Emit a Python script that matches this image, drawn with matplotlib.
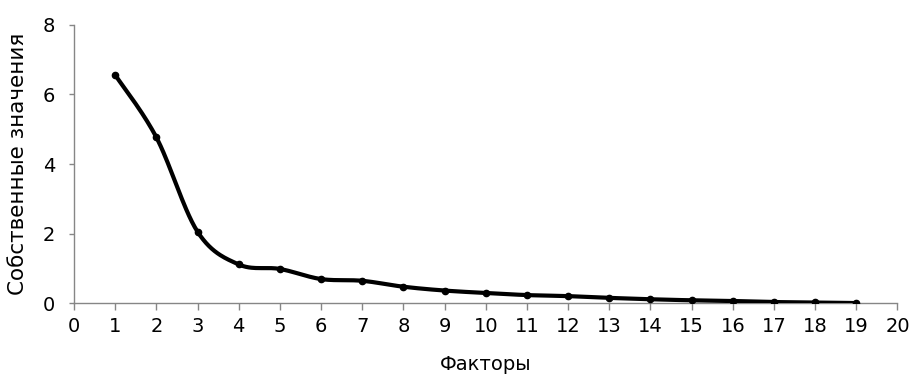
import numpy as np
import matplotlib
matplotlib.use("Agg")
import matplotlib.pyplot as plt

plt.rcParams['font.family'] = ['DejaVu Sans']

factors = list(range(1, 20))
eigenvalues = [6.56, 4.77, 2.06, 1.12, 0.99, 0.70, 0.65, 0.48, 0.37, 0.30,
               0.24, 0.21, 0.16, 0.12, 0.09, 0.07, 0.04, 0.03, 0.01]
x_ticks = list(range(0, 21))
y_ticks = [0, 2, 4, 6, 8]


def smooth(xs, ys, n=30):
    # Excel-style smoothed line: cubic bezier with catmull-rom control points
    xs = np.asarray(xs, float)
    ys = np.asarray(ys, float)
    px, py = [], []
    for i in range(len(xs) - 1):
        i0 = max(i - 1, 0)
        i3 = min(i + 2, len(xs) - 1)
        c1x = xs[i] + (xs[i + 1] - xs[i0]) / 6
        c1y = ys[i] + (ys[i + 1] - ys[i0]) / 6
        c2x = xs[i + 1] - (xs[i3] - xs[i]) / 6
        c2y = ys[i + 1] - (ys[i3] - ys[i]) / 6
        t = np.linspace(0, 1, n)
        b0 = (1 - t) ** 3
        b1 = 3 * (1 - t) ** 2 * t
        b2 = 3 * (1 - t) * t ** 2
        b3 = t ** 3
        px.extend(b0 * xs[i] + b1 * c1x + b2 * c2x + b3 * xs[i + 1])
        py.extend(b0 * ys[i] + b1 * c1y + b2 * c2y + b3 * ys[i + 1])
    return px, py


fig = plt.figure(figsize=(9.17, 3.76), dpi=100)
ax = fig.add_axes([0.0807, 0.193, 0.898, 0.741])

sx, sy = smooth(factors, eigenvalues)
ax.plot(sx, sy, color='black', linewidth=3.0, solid_capstyle='round', zorder=3)
ax.plot(factors, eigenvalues, 'o', color='black', markersize=4.5, zorder=4)

ax.set_xlim(0, 20)
ax.set_ylim(0, 8)
ax.set_xticks(x_ticks)
ax.set_yticks(y_ticks)

for s in ['top', 'right']:
    ax.spines[s].set_visible(False)
for s in ['left', 'bottom']:
    ax.spines[s].set_color('#868686')
    ax.spines[s].set_linewidth(1.0)
ax.tick_params(axis='both', colors='#868686', labelcolor='black',
               labelsize=14, direction='out', width=1)
ax.tick_params(axis='x', length=5, pad=5)
ax.tick_params(axis='y', length=3.6, pad=10)

ax.set_xlabel('Факторы', fontsize=14)
ax.set_ylabel('Собственные значения', fontsize=15.5)
ax.xaxis.set_label_coords(0.5, -0.185)
ax.yaxis.set_label_coords(-0.056, 0.5)

fig.savefig('out.png', dpi=100)
